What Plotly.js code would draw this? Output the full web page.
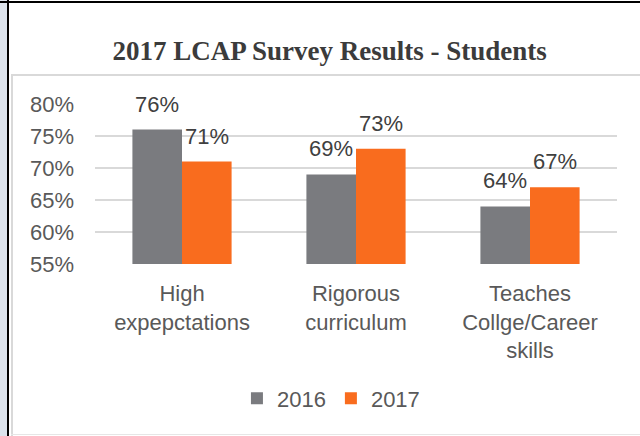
<!DOCTYPE html>
<html>
<head>
<meta charset="utf-8">
<script src="https://cdn.plot.ly/plotly-3.0.1.min.js"></script>
<style>
  html, body { margin: 0; padding: 0; background: #ffffff; }
  #wrap { position: relative; width: 640px; height: 436px; overflow: hidden; background: #ffffff; }
  #chart { position: absolute; left: 0; top: 0; width: 640px; height: 436px; }
  .b { position: absolute; pointer-events: none; }
</style>
</head>
<body>
<div id="wrap">
  <div id="chart"></div>
  <div class="b" style="left:0;top:0;width:7px;height:436px;background:#dce3ec;"></div>
  <div class="b" style="left:7px;top:0;width:2px;height:436px;background:#000;"></div>
  <div class="b" style="left:0;top:1px;width:640px;height:2px;background:#000;"></div>
  <div class="b" style="left:11px;top:75px;width:2px;height:361px;background:#d9d9d9;"></div>
  <div class="b" style="left:11px;top:74px;width:629px;height:2px;background:#d9d9d9;"></div>
  <div class="b" style="left:11px;top:434px;width:629px;height:1px;background:#e6e6e6;"></div>
</div>
<script>
const categories = ["High<br>expepctations", "Rigorous<br>curriculum", "Teaches<br>Collge/Career<br>skills"];
const seriesNames = ["2016", "2017"];
const values2016 = [76, 69, 64];
const values2017 = [71, 73, 67];
const yTickVals = [55, 60, 65, 70, 75, 80];
const yTickText = ["55%", "60%", "65%", "70%", "75%", "80%"];
const chartTitle = "2017 LCAP Survey Results - Students";

const colors = ["#7a7b7f", "#f96c1e"];
const FONT = "Liberation Sans, Arial, sans-serif";

const traces = [values2016, values2017].map((vals, i) => ({
  type: "bar",
  name: seriesNames[i],
  x: categories,
  y: vals,
  marker: { color: colors[i] },
  hoverinfo: "skip"
}));

const annotations = [];
[values2016, values2017].forEach((vals, i) => {
  vals.forEach((v, j) => {
    annotations.push({
      x: categories[j], y: v, xref: "x", yref: "y",
      text: v + "%",
      showarrow: false,
      yanchor: "bottom",
      xanchor: "center",
      xshift: i === 0 ? -24.75 : 24.75,
      yshift: 11,
      font: { family: FONT, size: 22, color: "#404040" }
    });
  });
});

const layout = {
  width: 640, height: 436,
  margin: { l: 95, r: 23, t: 104, b: 172, pad: 0 },
  paper_bgcolor: "rgba(0,0,0,0)",
  plot_bgcolor: "rgba(0,0,0,0)",
  barmode: "group",
  bargap: 0.43,
  bargroupgap: 0,
  title: {
    text: "<b>" + chartTitle + "</b>",
    font: { family: "Liberation Serif, Times New Roman, serif", size: 27, color: "#3b3b3b" },
    xref: "container", yref: "container",
    x: 0.515, xanchor: "center",
    y: 0.884, yanchor: "middle"
  },
  xaxis: {
    type: "category",
    showgrid: false, zeroline: false, showline: false,
    ticks: "",
    ticklabelstandoff: 14,
    tickfont: { family: FONT, size: 22, color: "#595959" },
    fixedrange: true
  },
  yaxis: {
    range: [55, 80],
    tickvals: yTickVals,
    ticktext: yTickText,
    showgrid: true, gridcolor: "#d9d9d9", gridwidth: 1.5,
    zeroline: false, showline: false,
    ticks: "",
    ticklabelstandoff: 20,
    tickfont: { family: FONT, size: 22, color: "#595959" },
    fixedrange: true
  },
  showlegend: true,
  legend: {
    orientation: "h",
    x: 0.452, xanchor: "center",
    y: -0.84, yanchor: "middle",
    font: { family: FONT, size: 22, color: "#595959" },
    itemwidth: 30,
    traceorder: "normal",
    bgcolor: "rgba(0,0,0,0)"
  },
  annotations: annotations
};

Plotly.newPlot("chart", traces, layout, { displayModeBar: false, staticPlot: true });
</script>
</body>
</html>
